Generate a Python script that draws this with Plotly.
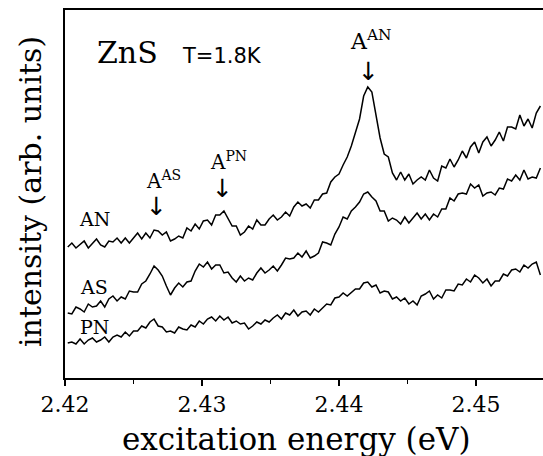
import plotly.graph_objects as go

# ---- data (intensity in arbitrary units) ----
E_START = 2.4202   # eV, first sample
E_STEP = 0.0003    # eV, sampling step

an_intensity = [
    131, 135, 130, 134, 137, 130, 135, 139, 133, 131,
    137, 136, 140, 135, 140, 135, 140, 145, 139, 145,
    140, 148, 147, 143, 146, 137, 139, 142, 140, 150,
    147, 154, 149, 157, 158, 153, 163, 163, 167, 160,
    152, 152, 143, 146, 152, 149, 158, 153, 153, 159,
    163, 158, 161, 166, 162, 171, 176, 172, 174, 170,
    178, 178, 184, 185, 196, 201, 204, 213, 221, 232,
    245, 259, 282, 291, 286, 263, 240, 224, 221, 205,
    198, 206, 198, 204, 194, 198, 201, 198, 208, 200,
    197, 212, 210, 219, 211, 218, 227, 220, 231, 236,
    225, 236, 241, 232, 238, 246, 237, 251, 251, 249,
    263, 252, 259, 250, 265, 272,
]

as_intensity = [
    65, 64, 71, 69, 66, 74, 71, 72, 77, 71,
    79, 82, 77, 81, 79, 87, 86, 86, 94, 97,
    104, 112, 108, 102, 92, 83, 90, 95, 91, 96,
    97, 107, 114, 111, 116, 109, 113, 113, 105, 106,
    100, 96, 102, 97, 100, 98, 105, 110, 105, 108,
    112, 107, 113, 120, 119, 120, 125, 121, 127, 120,
    122, 125, 136, 135, 133, 144, 151, 161, 159, 167,
    171, 176, 184, 186, 181, 177, 167, 167, 157, 160,
    158, 154, 161, 155, 160, 165, 159, 164, 158, 164,
    161, 169, 169, 180, 177, 184, 185, 184, 194, 190,
    193, 182, 185, 186, 183, 190, 189, 199, 197, 203,
    198, 208, 199, 201, 200, 210,
]

pn_intensity = [
    35, 36, 34, 39, 34, 38, 40, 36, 38, 41,
    36, 41, 43, 41, 46, 42, 47, 47, 52, 50,
    56, 59, 52, 51, 46, 47, 45, 51, 49, 48,
    53, 51, 57, 54, 59, 61, 57, 62, 58, 61,
    55, 57, 54, 55, 49, 52, 56, 54, 58, 56,
    60, 63, 59, 65, 63, 68, 62, 66, 67, 63,
    69, 66, 70, 74, 73, 80, 81, 85, 82, 86,
    89, 89, 95, 96, 91, 93, 85, 87, 86, 79,
    81, 77, 80, 74, 77, 73, 82, 84, 87, 79,
    83, 80, 88, 88, 87, 94, 93, 99, 96, 103,
    100, 95, 99, 92, 97, 97, 104, 102, 108, 109,
    106, 113, 110, 114, 116, 103,
]

energy = [round(E_START + E_STEP * i, 5) for i in range(len(an_intensity))]

series_names = ["AN", "AS", "PN"]
series_values = [an_intensity, as_intensity, pn_intensity]

x_ticks = [2.42, 2.43, 2.44, 2.45]
x_tick_labels = ["2.42", "2.43", "2.44", "2.45"]

# ---- figure ----
SERIF = "DejaVu Serif"
fig = go.Figure()
for name, vals in zip(series_names, series_values):
    fig.add_trace(go.Scatter(x=energy, y=vals, mode="lines", name=name,
                             line=dict(color="black", width=1.5),
                             showlegend=False, hoverinfo="skip"))

PX_PER_EV = 13700.0
LEFT = 65
def xd(px):
    return 2.42 + (px - LEFT) / PX_PER_EV
def yd(py):
    return 378 - py

ann = []
# panel texts
ann.append(dict(x=xd(127), y=yd(52), text="ZnS", font=dict(family=SERIF, size=30, color="black")))
ann.append(dict(x=xd(222), y=yd(56), text="T=1.8K", font=dict(family="DejaVu Sans", size=21, color="black")))
# curve labels
for lbl, py in zip(series_names, [219, 287, 327]):
    ann.append(dict(x=xd(94), y=yd(py), text=lbl, font=dict(family=SERIF, size=19, color="black")))
# peak labels
ann.append(dict(x=xd(163), y=yd(180), text="A<sup>AS</sup>", font=dict(family=SERIF, size=20, color="black")))
ann.append(dict(x=xd(228), y=yd(161), text="A<sup>PN</sup>", font=dict(family=SERIF, size=20, color="black")))
ann.append(dict(x=xd(370), y=yd(40), text="A<sup>AN</sup>", font=dict(family=SERIF, size=22, color="black")))
# arrows
for px, py in [(156, 206), (222, 188), (368, 71)]:
    ann.append(dict(x=xd(px), y=yd(py), text="↓", font=dict(family="DejaVu Sans", size=25, color="black")))
for a in ann:
    a.update(xref="x", yref="y", showarrow=False, xanchor="center", yanchor="middle")

PLOT_W = 543 - LEFT
# axis titles
ann.append(dict(x=(296 - LEFT) / PLOT_W, y=(378 - 439) / 368, xref="paper", yref="paper",
                text="excitation energy (eV)", showarrow=False,
                xanchor="center", yanchor="middle",
                font=dict(family=SERIF, size=31, color="black")))
ann.append(dict(x=(30 - LEFT) / PLOT_W, y=(378 - 192) / 368, xref="paper", yref="paper",
                text="intensity (arb. units)", showarrow=False, textangle=-90,
                xanchor="center", yanchor="middle",
                font=dict(family=SERIF, size=30, color="black")))

fig.update_layout(
    width=543, height=456,
    margin=dict(l=LEFT, r=0, t=10, b=78),
    paper_bgcolor="white", plot_bgcolor="white",
    annotations=ann,
    xaxis=dict(range=[2.42, xd(543)], tickvals=x_ticks, ticktext=x_tick_labels,
               ticks="outside", ticklen=6, tickwidth=1.5, tickcolor="black",
               minor=dict(dtick=0.005, tick0=2.42, ticks="outside", ticklen=4, tickcolor="black", tickwidth=1.2),
               showline=True, linecolor="black", linewidth=1.6, mirror=True,
               showgrid=False, zeroline=False,
               tickfont=dict(family=SERIF, size=22, color="black")),
    yaxis=dict(range=[0, 368], showticklabels=False, ticks="",
               showline=True, linecolor="black", linewidth=1.6, mirror=False,
               showgrid=False, zeroline=False),
)

fig.write_html("out.html")
